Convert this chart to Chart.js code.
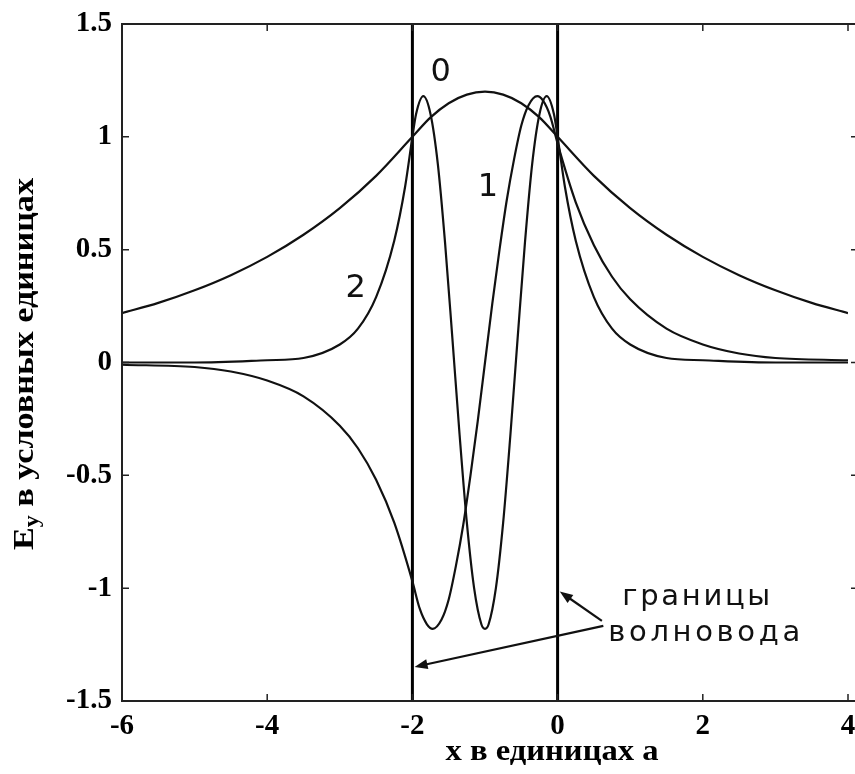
<!DOCTYPE html>
<html>
<head>
<meta charset="utf-8">
<script src="https://cdn.jsdelivr.net/npm/chart.js@4.4.1/dist/chart.umd.min.js"></script>
<style>
  html, body { margin: 0; padding: 0; background: #fff; overflow: hidden; }
</style>
</head>
<body>
<canvas id="chart" width="855" height="774"></canvas>
<script>
// mode 0 (broad)
const x0 = [-6, -5.5, -5, -4.5, -4, -3.5, -3, -2.5, -2, -1.75, -1.5, -1.25, -1, -0.75, -0.5, -0.25, 0, 0.5, 1, 1.5, 2, 2.5, 3, 3.5, 4];
const y0 = [0.219, 0.264, 0.320, 0.387, 0.468, 0.566, 0.684, 0.827, 1.0, 1.086, 1.149, 1.187, 1.2, 1.187, 1.149, 1.086, 1.0, 0.827, 0.684, 0.566, 0.468, 0.387, 0.320, 0.264, 0.219];

// mode 1 (one node)
const x1 = [-6, -5, -4.5, -4, -3.5, -3, -2.75, -2.5, -2.25, -2,
  -1.9, -1.8, -1.72, -1.6, -1.5, -1.4, -1.3, -1.2, -1.1, -1,
  -0.9, -0.8, -0.7, -0.6, -0.5, -0.4, -0.28, -0.2, -0.1, 0,
  0.25, 0.5, 0.75, 1, 1.5, 2, 2.5, 3, 4];
const y1 = [-0.01, -0.02, -0.04, -0.08, -0.15, -0.28, -0.38, -0.52, -0.71, -0.97,
  -1.09, -1.16, -1.18, -1.14, -1.05, -0.90, -0.72, -0.50, -0.26, 0,
  0.26, 0.50, 0.72, 0.90, 1.05, 1.14, 1.18, 1.16, 1.09, 0.97,
  0.71, 0.52, 0.38, 0.28, 0.15, 0.08, 0.04, 0.02, 0.01];

// mode 2 (two nodes)
const x2 = [-6, -5, -4, -3.5, -3, -2.75, -2.5, -2.25, -2.1, -2,
  -1.95, -1.85, -1.75, -1.65, -1.55, -1.45, -1.35, -1.25, -1.15, -1.05,
  -1, -0.95, -0.85, -0.75, -0.65, -0.55, -0.45, -0.35, -0.25, -0.15,
  -0.05, 0, 0.1, 0.25, 0.5, 0.75, 1, 1.5, 2, 3, 4];
const y2 = [0, 0, 0.01, 0.02, 0.08, 0.15, 0.29, 0.54, 0.78, 1.0,
  1.10, 1.18, 1.10, 0.88, 0.53, 0.11, -0.32, -0.71, -1.00, -1.16,
  -1.18, -1.16, -1.00, -0.71, -0.32, 0.11, 0.53, 0.88, 1.10, 1.18,
  1.10, 1.0, 0.78, 0.54, 0.29, 0.15, 0.08, 0.02, 0.01, 0, 0];

// waveguide boundaries
const boundaries = [-2, 0];

const xTickValues = [-6, -4, -2, 0, 2, 4];
const xTickLabels = ['-6', '-4', '-2', '0', '2', '4'];
const yTickValues = [-1.5, -1, -0.5, 0, 0.5, 1, 1.5];
const yTickLabels = ['-1.5', '-1', '-0.5', '0', '0.5', '1', '1.5'];

const curveNames = ['0', '1', '2'];
const annotationLines = ['границы', 'волновода'];

// where the texts and arrows sit (data units)
const curveLabelPos = [
  { x: -1.61, y: 1.285 },
  { x: -0.96, y: 0.775 },
  { x: -2.78, y: 0.325 }
];
const annotationPos = [
  { x: 1.91, y: -1.04, w: 148 },
  { x: 2.02, y: -1.20, w: 192 }
];
const arrows = [
  { from: { x: 0.61, y: -1.145 }, to: { x: 0.03, y: -1.015 } },
  { from: { x: 0.63, y: -1.167 }, to: { x: -1.97, y: -1.349 } }
];

function pts(xs, ys) {
  return xs.map((x, i) => ({ x: x, y: ys[i] }));
}

const curveStyle = {
  borderColor: '#111',
  borderWidth: 2.2,
  pointRadius: 0,
  fill: false,
  cubicInterpolationMode: 'monotone'
};

const datasets = [
  Object.assign({ label: curveNames[0], data: pts(x0, y0) }, curveStyle),
  Object.assign({ label: curveNames[1], data: pts(x1, y1) }, curveStyle),
  Object.assign({ label: curveNames[2], data: pts(x2, y2) }, curveStyle)
];
boundaries.forEach(b => {
  datasets.push({
    label: 'boundary ' + b,
    data: [{ x: b, y: yTickValues[0] }, { x: b, y: yTickValues[yTickValues.length - 1] }],
    borderColor: '#000',
    borderWidth: 3,
    pointRadius: 0,
    fill: false
  });
});

function drawFit(ctx, text, cx, cy, w, font) {
  ctx.font = font;
  const m = ctx.measureText(text).width;
  ctx.save();
  ctx.translate(cx, cy);
  ctx.scale(w / m, 1);
  ctx.textAlign = 'center';
  ctx.textBaseline = 'middle';
  ctx.fillText(text, 0, 0);
  ctx.restore();
}

function drawSpaced(ctx, text, cx, cy, w, font) {
  ctx.font = font;
  const chars = Array.from(text);
  const widths = chars.map(c => ctx.measureText(c).width);
  const natural = widths.reduce((a, b) => a + b, 0);
  const gap = (w - natural) / (chars.length - 1);
  let x = cx - w / 2;
  ctx.textAlign = 'left';
  ctx.textBaseline = 'middle';
  chars.forEach((c, i) => {
    ctx.fillText(c, x, cy);
    x += widths[i] + gap;
  });
}

function drawArrow(ctx, x1, y1, x2, y2) {
  const ang = Math.atan2(y2 - y1, x2 - x1);
  const len = 13, half = 5;
  ctx.beginPath();
  ctx.moveTo(x1, y1);
  ctx.lineTo(x2 - Math.cos(ang) * len * 0.6, y2 - Math.sin(ang) * len * 0.6);
  ctx.stroke();
  ctx.beginPath();
  ctx.moveTo(x2, y2);
  ctx.lineTo(x2 - Math.cos(ang) * len - Math.sin(ang) * half, y2 - Math.sin(ang) * len + Math.cos(ang) * half);
  ctx.lineTo(x2 - Math.cos(ang) * len + Math.sin(ang) * half, y2 - Math.sin(ang) * len - Math.cos(ang) * half);
  ctx.closePath();
  ctx.fill();
}

const decorPlugin = {
  id: 'decor',
  afterDatasetsDraw(chart) {
    const ctx = chart.ctx;
    const a = chart.chartArea;
    const xs = chart.scales.x, ys = chart.scales.y;
    const W = chart.width;
    ctx.save();
    ctx.strokeStyle = '#222';
    ctx.fillStyle = '#000';
    ctx.lineWidth = 2;

    // frame (right side runs off the picture)
    ctx.beginPath();
    ctx.moveTo(W, a.top); ctx.lineTo(a.left, a.top); ctx.lineTo(a.left, a.bottom); ctx.lineTo(W, a.bottom);
    ctx.stroke();

    // inward ticks
    ctx.lineWidth = 1.5;
    const tl = 7;
    ctx.beginPath();
    xTickValues.forEach(v => {
      const px = xs.getPixelForValue(v);
      ctx.moveTo(px, a.bottom); ctx.lineTo(px, a.bottom - tl);
      ctx.moveTo(px, a.top); ctx.lineTo(px, a.top + tl);
    });
    yTickValues.forEach(v => {
      const py = ys.getPixelForValue(v);
      ctx.moveTo(a.left, py); ctx.lineTo(a.left + tl, py);
      ctx.moveTo(W, py); ctx.lineTo(W - 4, py);
    });
    ctx.stroke();

    // curve numbers
    ctx.fillStyle = '#111';
    ctx.font = '32px "DejaVu Sans"';
    ctx.textAlign = 'center';
    ctx.textBaseline = 'middle';
    curveLabelPos.forEach((p, i) => {
      ctx.fillText(curveNames[i], xs.getPixelForValue(p.x), ys.getPixelForValue(p.y));
    });

    // annotation
    annotationPos.forEach((p, i) => {
      drawSpaced(ctx, annotationLines[i], xs.getPixelForValue(p.x), ys.getPixelForValue(p.y), p.w, '29px "DejaVu Sans"');
    });
    ctx.strokeStyle = '#111';
    ctx.lineWidth = 2.2;
    arrows.forEach(ar => {
      drawArrow(ctx,
        xs.getPixelForValue(ar.from.x), ys.getPixelForValue(ar.from.y),
        xs.getPixelForValue(ar.to.x), ys.getPixelForValue(ar.to.y));
    });

    // axis titles
    ctx.fillStyle = '#000';
    drawFit(ctx, 'x в единицах а', a.left + 430, 752, 213, 'bold 30px "Liberation Serif"');

    // y title with subscript, rotated
    const big = 'bold 30px "Liberation Serif"', small = 'bold 21px "Liberation Serif"';
    ctx.font = big; const wE = ctx.measureText('E').width;
    const rest = ' в условных единицах';
    const wR = ctx.measureText(rest).width;
    ctx.font = small; const wy = ctx.measureText('y').width;
    const total = wE + wy + wR;
    const k = 372 / total;
    ctx.save();
    ctx.translate(25, 364);
    ctx.rotate(-Math.PI / 2);
    ctx.scale(k, 1);
    ctx.textAlign = 'left';
    ctx.textBaseline = 'middle';
    let x = -total / 2;
    ctx.font = big; ctx.fillText('E', x, 0); x += wE;
    ctx.font = small; ctx.fillText('y', x, 8); x += wy;
    ctx.font = big; ctx.fillText(rest, x, 0);
    ctx.restore();

    ctx.restore();
  }
};

const tickFont = { family: 'Liberation Serif', size: 29, weight: 'bold' };

new Chart(document.getElementById('chart'), {
  type: 'line',
  data: { datasets: datasets },
  options: {
    responsive: false,
    animation: false,
    devicePixelRatio: 1,
    layout: { padding: { left: 0, top: 24, right: 7, bottom: 0 } },
    plugins: {
      legend: { display: false },
      tooltip: { enabled: false }
    },
    scales: {
      x: {
        type: 'linear',
        min: -6,
        max: 4,
        afterFit(scale) { scale.height = 73; scale.paddingLeft = 0; scale.paddingRight = 0; },
        afterBuildTicks(scale) { scale.ticks = xTickValues.map(v => ({ value: v })); },
        grid: { display: false, drawTicks: false },
        border: { display: false },
        ticks: {
          autoSkip: false,
          maxRotation: 0,
          padding: 8,
          color: '#000',
          font: tickFont,
          callback: (v, i) => xTickLabels[i]
        }
      },
      y: {
        type: 'linear',
        min: -1.5,
        max: 1.5,
        afterFit(scale) { scale.width = 122; scale.paddingTop = 0; scale.paddingBottom = 0; },
        afterBuildTicks(scale) { scale.ticks = yTickValues.map(v => ({ value: v })); },
        grid: { display: false, drawTicks: false },
        border: { display: false },
        ticks: {
          autoSkip: false,
          padding: 10,
          color: '#000',
          font: tickFont,
          callback: (v, i) => yTickLabels[i]
        }
      }
    }
  },
  plugins: [decorPlugin]
});
</script>
</body>
</html>
